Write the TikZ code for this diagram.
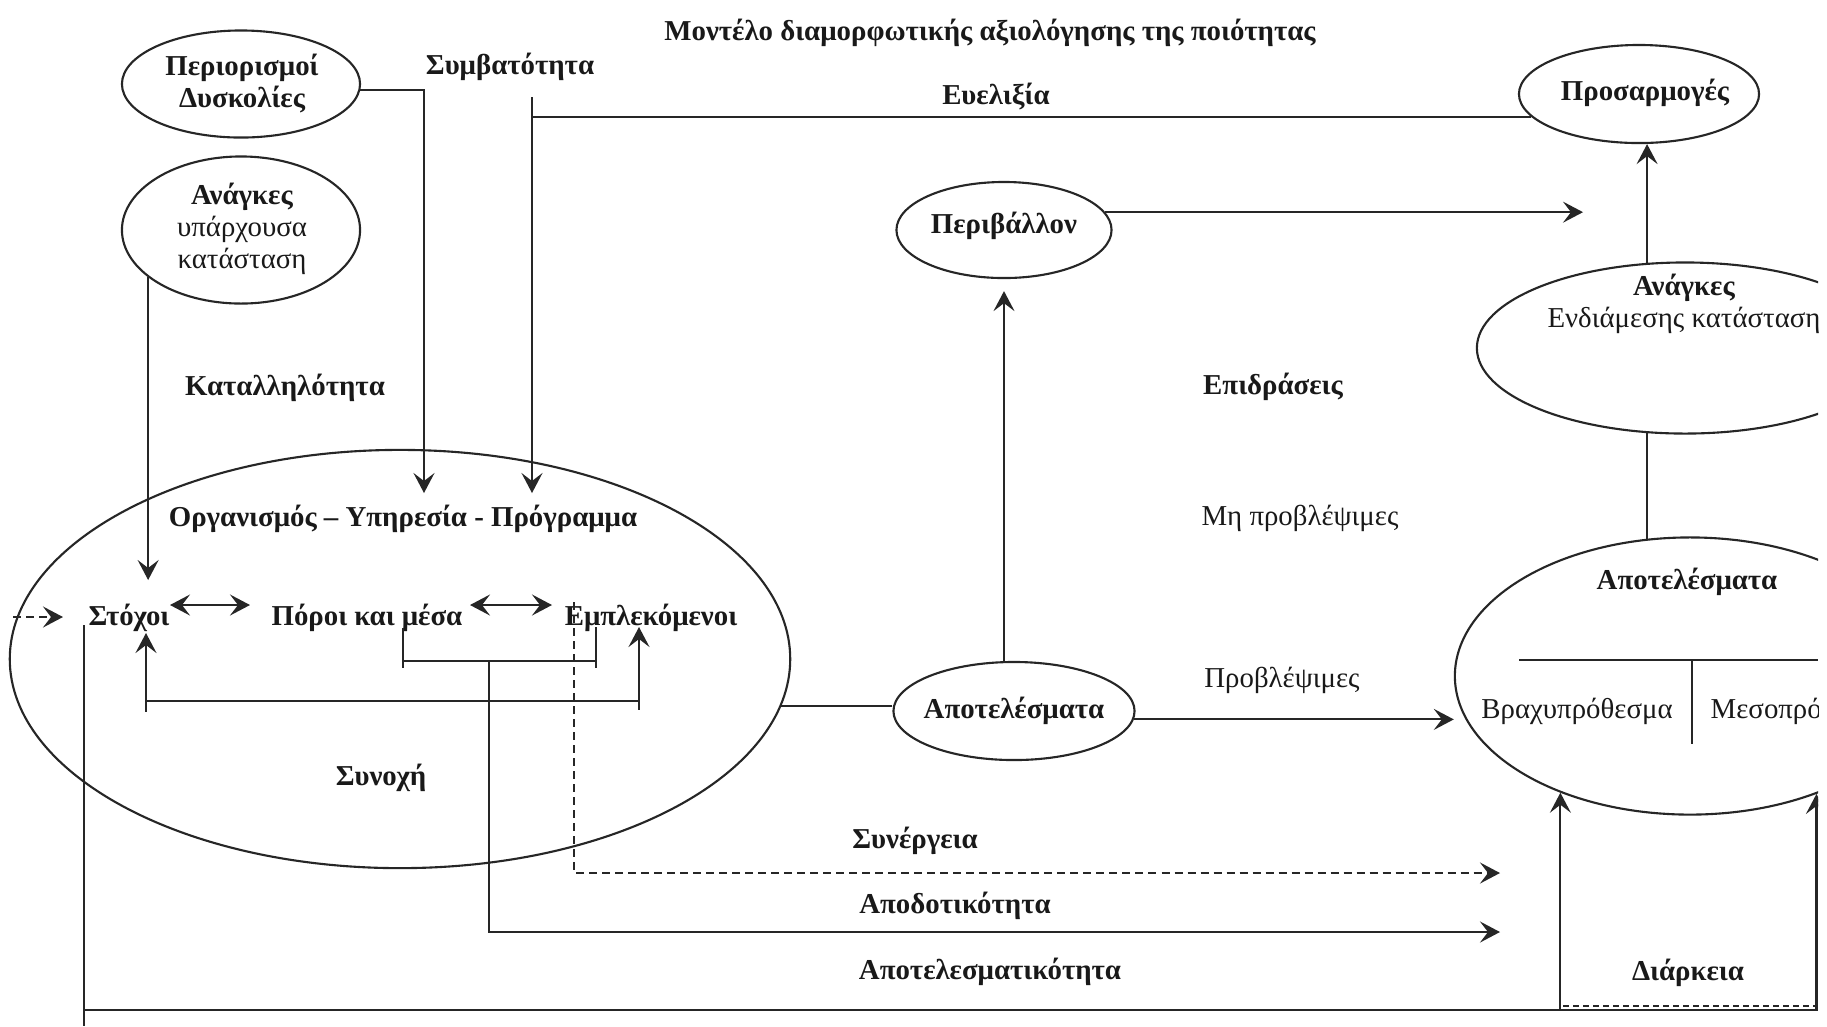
\documentclass[tikz,border=0pt]{standalone}
\usepackage{fontspec}
\setmainfont{Liberation Serif}
\usetikzlibrary{shapes.geometric,arrows.meta}
\tikzset{
  stl/.tip={Stealth[length=2mm,width=2.1mm,inset=0.8mm]},
  ln/.style={line width=0.6pt,draw=black!85},
  arr/.style={ln,-stl},
  darr/.style={ln,stl-stl},
  dsh/.style={dash pattern=on 0.8mm off 0.5mm},
  ell/.style={ellipse,draw=black!85,line width=0.6pt,inner sep=0pt},
  bt/.style={font=\fontsize{8.2}{9.1}\selectfont\bfseries,text=black!90,inner sep=0pt,align=center},
  nt/.style={font=\fontsize{8.2}{9.1}\selectfont,text=black!90,inner sep=0pt,align=center},
}
\begin{document}
\begin{tikzpicture}[x=0.01cm,y=-0.01cm]
\useasboundingbox (0,0) rectangle (1827,1026);
\fill[white] (0,0) rectangle (1827,1026);
\begin{scope}
\clip (0,0) rectangle (1818,1026);

% ellipses
\node[ell,minimum width=2.38cm,minimum height=1.07cm] (P) at (241,84) {};
\node[bt] (Ptx) at (242,84) {Περιορισμοί\\Δυσκολίες};
\node[ell,minimum width=2.38cm,minimum height=1.47cm] (A1) at (241,230) {};
\node[nt] (A1tx) at (242,229) {\textbf{Ανάγκες}\\υπάρχουσα\\κατάσταση};
\node[ell,minimum width=2.40cm,minimum height=0.98cm] (Pros) at (1639,94) {};
\node[bt] (Prostx) at (1645,93) {Προσαρμογές};
\node[ell,minimum width=2.15cm,minimum height=0.96cm] (Peri) at (1004,230) {};
\node[bt] (Peritx) at (1004,226) {Περιβάλλον};
\node[ell,minimum width=4.16cm,minimum height=1.71cm] (A2) at (1685,348) {};
\node[nt] (A2tx) at (1684,304) {\textbf{Ανάγκες}\\Ενδιάμεσης κατάσταση};
\node[ell,minimum width=4.70cm,minimum height=2.77cm] (R) at (1690,676) {};
\node[bt] (Rtx) at (1687,582) {Αποτελέσματα};
\node[nt] (brax) at (1577,711) {Βραχυπρόθεσμα};
\node[nt,anchor=west] (meso) at (1710,711) {Μεσοπρόθεσμα};
\node[ell,minimum width=2.41cm,minimum height=0.98cm] (M) at (1014,711) {};
\node[bt] (Mtx) at (1014,711) {Αποτελέσματα};
\node[ell,minimum width=7.80cm,minimum height=4.18cm] (B) at (400,659) {};

% labels
\node[bt] (title) at (990,33) {Μοντέλο διαμορφωτικής αξιολόγησης της ποιότητας};
\node[bt] (symb) at (510,67) {Συμβατότητα};
\node[bt] (evel) at (996,97) {Ευελιξία};
\node[bt] (katal) at (285,388) {Καταλληλότητα};
\node[bt] (epid) at (1273,387) {Επιδράσεις};
\node[nt] (mipro) at (1300,518) {Μη προβλέψιμες};
\node[nt] (pro) at (1282,680) {Προβλέψιμες};
\node[bt] (org) at (403,519) {Οργανισμός – Υπηρεσία - Πρόγραμμα};
\node[bt] (stox) at (129,618) {Στόχοι};
\node[bt] (poroi) at (367,618) {Πόροι και μέσα};
\node[bt] (empl) at (651,618) {Εμπλεκόμενοι};
\node[bt] (synoxi) at (381,778) {Συνοχή};
\node[bt] (syner) at (915,841) {Συνέργεια};
\node[bt] (apod) at (955,906) {Αποδοτικότητα};
\node[bt] (apotel) at (990,972) {Αποτελεσματικότητα};
\node[bt] (diark) at (1688,973) {Διάρκεια};

% coordinates
\coordinate (c1) at (424,493);
\coordinate (ev0) at (532,97);
\coordinate (ev1) at (532,493);
\coordinate (pe1) at (1583,211);
\coordinate (t1) at (146,580);
\coordinate (dl0) at (13,617);
\coordinate (dl1) at (63,617);
\coordinate (bot) at (84,1010);
\coordinate (botR) at (1818,1010);
\coordinate (stv) at (84,625);
\coordinate (stv1) at (84,1026);
\coordinate (e1) at (1500,932);
\coordinate (e2) at (1500,873);

% connectors top
\draw[arr] (P.-3) -| (c1);
\draw[arr] (ev0) -- (ev1);
\draw[ln] (Pros.192) -- (Pros.192 -| ev0);
\draw[arr] (Peri.10) -- (Peri.10 -| pe1);
\draw[arr] (A2.114) -- (A2.114 |- Pros.south);
\draw[ln] (A2.246) -- (A2.246 |- R.107);
\draw[arr] (A1.207) -- (A1.207 |- t1);

% results
\draw[ln] (B.-7) -- (B.-7 -| M.west);
\draw[arr,shorten >=1.2mm] (Peri.south |- M.north) -- (Peri.south);
\draw[arr] (M.-4) -- (M.-4 -| R.west);

% inside the organisation
\draw[ln,dsh,-stl] (dl0) -- (dl1);
\draw[darr] (170,605) -- (250,605);
\draw[darr] (470,605) -- (552,605);
\draw[darr] (146,633) -- (146,701) -- (639,701) -- (639,627);
\draw[ln] (146,701) -- (146,712);
\draw[ln] (639,701) -- (639,710);
\draw[ln] (403,628) -- (403,668);
\draw[ln] (596,627) -- (596,668);
\draw[ln] (403,661) -- (596,661);
\draw[arr] (489,661) -- (489,932) -- (e1);
\draw[arr,dsh] (574,602) -- (574,873) -- (e2);

% bottom
\draw[ln] (stv) -- (stv1);
\draw[ln] (bot) -- (botR);
\draw[ln,dash pattern=on 0.6mm off 0.4mm] (1563,1006) -- (1818,1006);
\draw[arr] (R.222 |- bot) -- (R.222);
\draw[arr] (R.317 |- bot) -- (R.317);

% inside right results
\draw[ln] (1519,660) -- (1818,660);
\draw[ln] (1692,660) -- (1692,744);
\end{scope}
\end{tikzpicture}
\end{document}
